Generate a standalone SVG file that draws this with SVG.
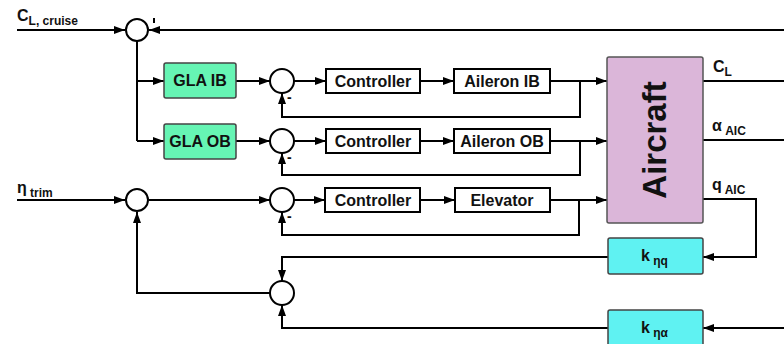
<svg xmlns="http://www.w3.org/2000/svg" width="784" height="344" viewBox="0 0 784 344">
<style>
.c{fill:none;stroke:#000;stroke-width:2}
.a{marker-end:url(#ah)}
.sum{fill:#fff;stroke:#000;stroke-width:2}
.wb{fill:#fff;stroke:#000;stroke-width:2}
.gla{fill:#66f5b4;stroke:#444;stroke-width:1.5}
.kb{fill:#5ff2f2;stroke:#444;stroke-width:1.5}
.ac{fill:#dbb6d9;stroke:#555;stroke-width:1.5}
.t{font-family:"Liberation Sans",Arial,sans-serif;font-weight:bold;font-size:16px;fill:#111}
.s{font-family:"Liberation Sans",Arial,sans-serif;font-weight:bold;font-size:12px;fill:#111}
.m{font-family:"Liberation Sans",Arial,sans-serif;font-weight:bold;font-size:14px;fill:#111}
</style>
<defs>
<marker id="ah" markerUnits="userSpaceOnUse" markerWidth="12" markerHeight="8" refX="11" refY="4" orient="auto">
<path d="M0,0 L11,4 L0,8 z" fill="#000"/>
</marker>
</defs>
<g id="connectors">
<path class="c a" d="M17 30 H125"/>
<path class="c a" d="M784 30 H149"/>
<path class="c" d="M137 41 V141"/>
<path class="c a" d="M137 81 H164"/>
<path class="c a" d="M137 141 H164"/>
<path class="c a" d="M236 81 H270"/>
<path class="c a" d="M236 141 H270"/>
<path class="c a" d="M294 81 H326"/>
<path class="c a" d="M420 81 H454"/>
<path class="c a" d="M550 81 H607"/>
<path class="c a" d="M580 81 V117 H282 V93"/>
<path class="c a" d="M294 141 H326"/>
<path class="c a" d="M420 141 H454"/>
<path class="c a" d="M550 141 H607"/>
<path class="c a" d="M580 141 V175 H282 V153"/>
<path class="c a" d="M17 200 H125"/>
<path class="c a" d="M149 200 H270"/>
<path class="c a" d="M294 200 H325"/>
<path class="c a" d="M420 200 H455"/>
<path class="c a" d="M550 200 H607"/>
<path class="c a" d="M579 200 V235 H282 V212"/>
<path class="c" d="M703 81 H784"/>
<path class="c" d="M703 140 H784"/>
<path class="c a" d="M703 199 H756 V257 H703"/>
<path class="c a" d="M608 257 H282 V281"/>
<path class="c a" d="M784 328 H703"/>
<path class="c a" d="M608 328 H282 V305"/>
<path class="c a" d="M270 293 H137 V212"/>
</g>
<g id="labels">
<text class="t" x="17" y="21">C<tspan class="s" dy="4">L, cruise</tspan></text>
<text class="t" x="17" y="193">η<tspan class="s" dy="4"> trim</tspan></text>
<text class="t" x="713" y="72">C<tspan class="s" dy="4">L</tspan></text>
<text class="t" x="712" y="131">α<tspan class="s" dy="4"> AIC</tspan></text>
<text class="t" x="712" y="190">q<tspan class="s" dy="4"> AIC</tspan></text>
<path d="M154 18 V23" stroke="#000" stroke-width="2"/>
<text class="m" x="287" y="102">-</text>
<text class="m" x="287" y="162">-</text>
<text class="m" x="287" y="221">-</text>
</g>
<g id="sum1"><circle class="sum" cx="137" cy="30" r="11"/></g>
<g id="sum2"><circle class="sum" cx="282" cy="81" r="12"/></g>
<g id="sum3"><circle class="sum" cx="282" cy="141" r="12"/></g>
<g id="sum4"><circle class="sum" cx="137" cy="200" r="11"/></g>
<g id="sum5"><circle class="sum" cx="282" cy="200" r="12"/></g>
<g id="sum6"><circle class="sum" cx="282" cy="293" r="12"/></g>
<g id="glaib"><rect class="gla" x="164" y="63" width="72" height="35" rx="2"/><text class="t" x="200" y="86" text-anchor="middle">GLA IB</text></g>
<g id="glaob"><rect class="gla" x="164" y="124" width="72" height="35" rx="2"/><text class="t" x="200" y="147" text-anchor="middle">GLA OB</text></g>
<g id="ctrl1"><rect class="wb" x="326" y="69" width="94" height="24"/><text class="t" x="373" y="87" text-anchor="middle">Controller</text></g>
<g id="ctrl2"><rect class="wb" x="326" y="129" width="94" height="24"/><text class="t" x="373" y="147" text-anchor="middle">Controller</text></g>
<g id="ctrl3"><rect class="wb" x="325" y="188" width="95" height="24"/><text class="t" x="373" y="206" text-anchor="middle">Controller</text></g>
<g id="ailib"><rect class="wb" x="454" y="69" width="96" height="24"/><text class="t" x="502" y="87" text-anchor="middle">Aileron IB</text></g>
<g id="ailob"><rect class="wb" x="454" y="129" width="96" height="24"/><text class="t" x="502" y="147" text-anchor="middle">Aileron OB</text></g>
<g id="elev"><rect class="wb" x="455" y="188" width="95" height="24"/><text class="t" x="502" y="206" text-anchor="middle">Elevator</text></g>
<g id="aircraft"><rect class="ac" x="607" y="57" width="96" height="166" rx="2"/><text x="666" y="140" text-anchor="middle" transform="rotate(-90 666 140)" font-family="Liberation Sans,Arial,sans-serif" font-weight="bold" font-size="33" fill="#111">Aircraft</text></g>
<g id="knq"><rect class="kb" x="608" y="238" width="95" height="36" rx="2"/><text class="t" x="641" y="261">k<tspan class="s" dy="4"> ηq</tspan></text></g>
<g id="kna"><rect class="kb" x="608" y="310" width="95" height="36" rx="2"/><text class="t" x="641" y="333">k<tspan class="s" dy="4"> ηα</tspan></text></g>
</svg>
